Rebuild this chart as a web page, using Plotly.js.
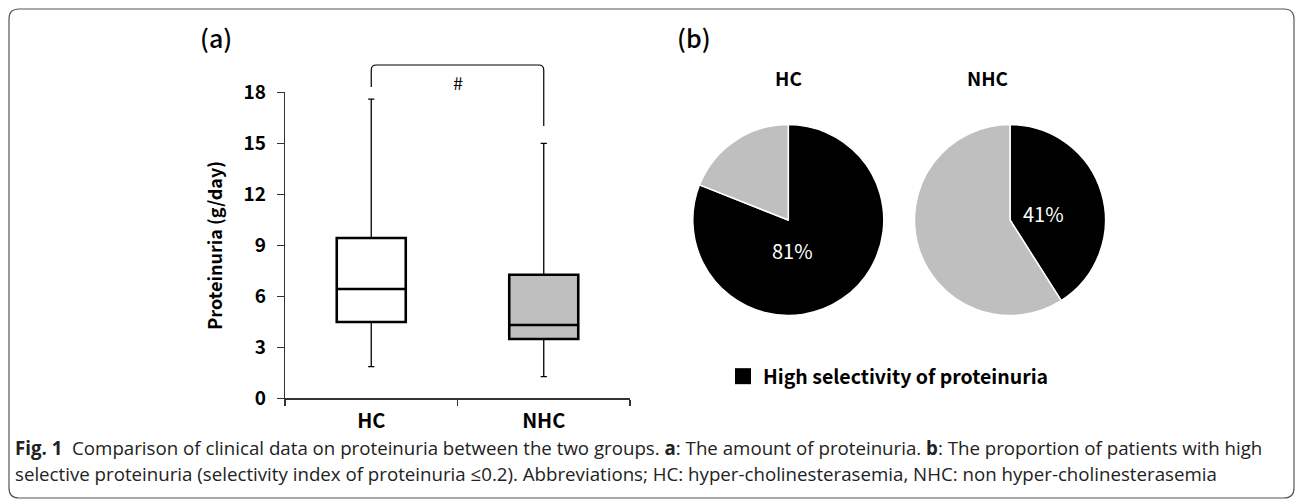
<!DOCTYPE html>
<html>
<head>
<meta charset="utf-8">
<script src="https://cdn.plot.ly/plotly-3.0.1.min.js"></script>
<style>
  html, body { margin: 0; padding: 0; background: #fff; }
  #chart { width: 1296px; height: 501px; }
</style>
</head>
<body>
<div id="chart"></div>
<script>
// ---- Data ----
const categories = ["HC", "NHC"];
const q1Values = [4.49, 3.49];
const medianValues = [6.43, 4.31];
const q3Values = [9.43, 7.27];
const lowerWhisker = [1.86, 1.27];
const upperWhisker = [17.6, 15.0];
const boxFills = ["#ffffff", "#bfbfbf"];
const yTickVals = [0, 3, 6, 9, 12, 15, 18];

const pieGroups = ["HC", "NHC"];
const pieLabels = ["High selectivity of proteinuria", "Low selectivity of proteinuria"];
const highSelectivityPct = [81, 41];
const lowSelectivityPct = [19, 59];
const sigMark = "#";

const captionLine1 = "<b>Fig. 1</b>  Comparison of clinical data on proteinuria between the two groups. <b>a</b>: The amount of proteinuria. <b>b</b>: The proportion of patients with high";
const captionLine2 = "selective proteinuria (selectivity index of proteinuria \u22640.2). Abbreviations; HC: hyper-cholinesterasemia, NHC: non hyper-cholinesterasemia";

// ---- Layout helpers ----
const W = 1296, H = 501;
const px = v => v / W;
const py = v => 1 - v / H;
const JP = "Noto Sans CJK JP, Noto Sans, sans-serif";
const CAP = "Open Sans, sans-serif";

const traces = [];
categories.forEach((c, i) => {
  // whiskers (thin)
  traces.push({
    type: "box", x: [c], q1: [q1Values[i]], median: [medianValues[i]], q3: [q3Values[i]],
    lowerfence: [lowerWhisker[i]], upperfence: [upperWhisker[i]],
    width: 0.4, whiskerwidth: 0.09, fillcolor: boxFills[i],
    line: { color: "#000", width: 1.3 }, hoverinfo: "skip", showlegend: false,
    xaxis: "x", yaxis: "y"
  });
  // box body (thick)
  traces.push({
    type: "box", x: [c], q1: [q1Values[i]], median: [medianValues[i]], q3: [q3Values[i]],
    lowerfence: [q1Values[i]], upperfence: [q3Values[i]],
    width: 0.4, whiskerwidth: 0, fillcolor: boxFills[i],
    line: { color: "#000", width: 2.6 }, hoverinfo: "skip", showlegend: false,
    xaxis: "x", yaxis: "y"
  });
});

const pieCenters = [788.3, 1010];
const pieCy = 220, pieR = 95.5;
// label anchor offsets (px from pie centre) as placed in the original figure
const pctLabelOffsets = [[4, 30], [33, -7]];
pieGroups.forEach((g, i) => {
  traces.push({
    type: "pie", name: g,
    labels: pieLabels, values: [highSelectivityPct[i], lowSelectivityPct[i]],
    sort: false, direction: "clockwise", rotation: 0,
    marker: { colors: ["#000000", "#bfbfbf"], line: { color: "#ffffff", width: 1.5 } },
    textinfo: "none",
    domain: { x: [px(pieCenters[i] - pieR), px(pieCenters[i] + pieR)], y: [py(pieCy + pieR), py(pieCy - pieR)] },
    showlegend: false, hoverinfo: "skip"
  });
});

// legend entry
traces.push({
  type: "scatter", mode: "markers", x: [null], y: [null], name: pieLabels[0],
  marker: { symbol: "square", size: 16, color: "#000" }, showlegend: true,
  xaxis: "x", yaxis: "y"
});

// bracket shape
const yTop = py(65), yL = py(87), yR = py(126), rY = 5 / H, rX = 5 / 172;
const bracketPath = `M0,${yL} L0,${yTop - rY} Q0,${yTop} ${rX},${yTop} L${1 - rX},${yTop} Q1,${yTop} 1,${yTop - rY} L1,${yR}`;

// border rounded rect
const bx0 = px(9), bx1 = px(1294), by0 = py(9), by1 = py(498), brx = 10 / W, bry = 10 / H;
const borderPath = `M${bx0 + brx},${by0} L${bx1 - brx},${by0} Q${bx1},${by0} ${bx1},${by0 - bry} L${bx1},${by1 + bry} Q${bx1},${by1} ${bx1 - brx},${by1} L${bx0 + brx},${by1} Q${bx0},${by1} ${bx0},${by1 + bry} L${bx0},${by0 - bry} Q${bx0},${by0} ${bx0 + brx},${by0} Z`;

const annotations = [
  { xref: "x", yref: "paper", x: 0.5, y: py(82), text: sigMark, showarrow: false, font: { family: JP, size: 18 }, yanchor: "middle" },
  { xref: "paper", yref: "paper", x: px(216), y: py(37), text: "(a)", showarrow: false, font: { family: JP, size: 25, weight: 500 }, xanchor: "center", yanchor: "middle" },
  { xref: "paper", yref: "paper", x: px(694), y: py(37), text: "(b)", showarrow: false, font: { family: JP, size: 25, weight: 500 }, xanchor: "center", yanchor: "middle" },
  { xref: "paper", yref: "paper", x: px(13), y: py(447), text: captionLine1, showarrow: false, xanchor: "left", yanchor: "middle", font: { family: CAP, size: 18.7, color: "#222" } },
  { xref: "paper", yref: "paper", x: px(13), y: py(473), text: captionLine2, showarrow: false, xanchor: "left", yanchor: "middle", font: { family: CAP, size: 18.7, color: "#222" } }
];
pieGroups.forEach((g, i) => {
  annotations.push({ xref: "paper", yref: "paper", x: px(pieCenters[i]), y: py(77), text: g, showarrow: false, font: { family: JP, size: 19, weight: "bold" }, yanchor: "middle" });
  annotations.push({ xref: "paper", yref: "paper", x: px(pieCenters[i] + pctLabelOffsets[i][0]), y: py(pieCy + pctLabelOffsets[i][1]), text: highSelectivityPct[i] + "%", showarrow: false, font: { family: JP, size: 20, color: "#fff" }, xanchor: "center", yanchor: "middle" });
});

const layout = {
  width: W, height: H,
  margin: { l: 0, r: 0, t: 0, b: 0 },
  paper_bgcolor: "#fff", plot_bgcolor: "rgba(0,0,0,0)",
  showlegend: true,
  boxmode: "overlay",
  font: { family: JP, color: "#000" },
  xaxis: {
    domain: [px(285), px(630)], type: "category", range: [-0.5, 1.5],
    showline: true, linecolor: "#333", linewidth: 1.3,
    ticks: "outside", tickson: "boundaries", ticklen: 6, tickcolor: "#333", tickwidth: 1.3,
    tickfont: { family: JP, size: 20, weight: "bold", color: "#000" },
    ticklabelstandoff: 4,
    showgrid: false, zeroline: false, fixedrange: true, automargin: false
  },
  yaxis: {
    domain: [py(398.3), py(92.3)], range: [0, 18],
    tickvals: yTickVals, ticktext: yTickVals.map(String),
    showline: true, linecolor: "#333", linewidth: 1.3,
    ticks: "outside", ticklen: 7, tickcolor: "#333", tickwidth: 1.3,
    tickfont: { family: JP, size: 19, weight: 600, color: "#000" },
    ticklabelstandoff: 7,
    title: { text: "Proteinuria (g/day)", font: { family: JP, size: 18, weight: 600, color: "#000" }, standoff: 16 },
    showgrid: false, zeroline: false, fixedrange: true, automargin: false
  },
  legend: {
    x: px(723), y: py(376.5), xanchor: "left", yanchor: "middle",
    font: { family: JP, size: 19.5, weight: "bold", color: "#000" },
    bgcolor: "rgba(0,0,0,0)", itemclick: false
  },
  shapes: [
    { type: "path", xref: "x", yref: "paper", path: bracketPath, line: { color: "#000", width: 1.2 } },
    { type: "path", xref: "paper", yref: "paper", path: borderPath, line: { color: "#555", width: 1.2 } }
  ],
  annotations: annotations
};

Plotly.newPlot("chart", traces, layout, { staticPlot: true, displayModeBar: false });
</script>
</body>
</html>
